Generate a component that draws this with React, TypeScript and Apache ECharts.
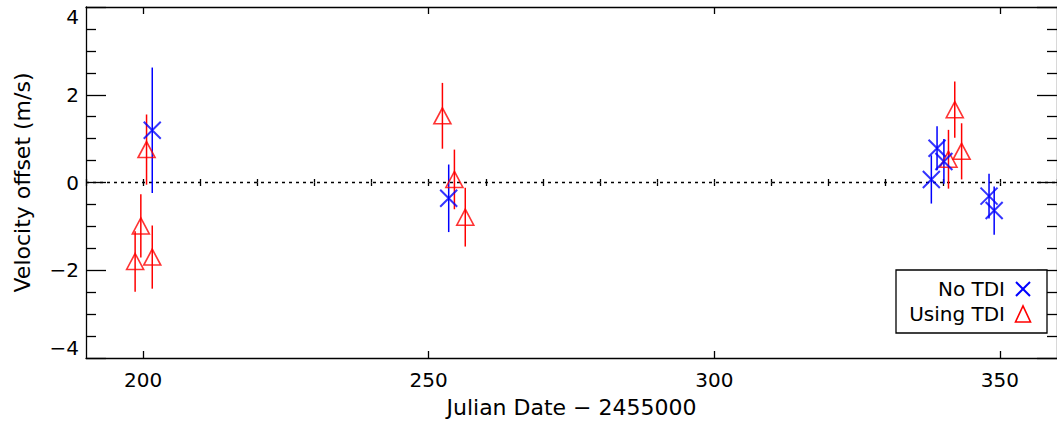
import React, { useEffect, useRef } from "react";
import * as echarts from "echarts";

// ---- Data ----
const noTdiDate = [201.6, 253.5, 338.0, 339.0, 340.2, 348.1, 349.0];
const noTdiOffset = [1.19, -0.36, 0.07, 0.78, 0.48, -0.31, -0.64];
const noTdiError = [1.43, 0.77, 0.55, 0.5, 0.51, 0.51, 0.55];

const tdiDate = [198.6, 199.6, 200.6, 201.6, 252.4, 254.5, 256.4, 341.0, 342.1, 343.3];
const tdiOffset = [-1.8, -0.99, 0.75, -1.7, 1.52, 0.07, -0.79, 0.53, 1.66, 0.71];
const tdiError = [0.69, 0.72, 0.8, 0.72, 0.75, 0.68, 0.67, 0.67, 0.64, 0.64];

const xMajorTicks = [200, 250, 300, 350];
const xMinorTicks = [190, 200, 210, 220, 230, 240, 250, 260, 270, 280, 290, 300, 310, 320, 330, 340, 350, 360];
const zeroLine = [
  [190, 0],
  [360, 0],
];

const xTitle = "Julian Date \u2212 2455000";
const yTitle = "Velocity offset (m/s)";
const legendLabels = ["No TDI", "Using TDI"];

const FONT = "DejaVu Sans";
const BLUE = "#0000ff";
const RED = "#ff0000";
const AXIS_W = 1.3;

function errorBars(dates: number[], vals: number[], errs: number[], color: string) {
  return {
    type: "custom",
    xAxisIndex: 0,
    yAxisIndex: 0,
    silent: true,
    data: dates.map((d, i) => [d, vals[i], errs[i]]),
    encode: { x: 0, y: 1 },
    renderItem: (_params: any, api: any) => {
      const x = api.value(0);
      const y = api.value(1);
      const e = api.value(2);
      const p1 = api.coord([x, y - e]);
      const p2 = api.coord([x, y + e]);
      return {
        type: "line",
        shape: { x1: p1[0], y1: p1[1], x2: p2[0], y2: p2[1] },
        style: { stroke: color, lineWidth: 1.5 },
      };
    },
  };
}

export default function App() {
  const ref = useRef<HTMLDivElement>(null);

  useEffect(() => {
    if (!ref.current) return;
    const chart = echarts.init(ref.current, null, { renderer: "svg" });

    const axisLine = { show: true, onZero: false, lineStyle: { color: "#000", width: AXIS_W } };
    const tickLine = { color: "#000", width: AXIS_W };

    const xBase = {
      type: "value",
      min: 190,
      max: 360,
      splitLine: { show: false },
      minorSplitLine: { show: false },
    };

    const yBase = {
      type: "value",
      min: -4,
      max: 4,
      interval: 2,
      axisLine,
      axisTick: { show: true, inside: true, length: 20, lineStyle: tickLine },
      minorTick: { show: true, splitNumber: 4, length: 10, lineStyle: tickLine },
      splitLine: { show: false },
      minorSplitLine: { show: false },
    };

    const option: any = {
      animation: false,
      backgroundColor: "#fff",
      grid: { left: 86, top: 7, right: -9, bottom: 64, containLabel: false },
      xAxis: [
        {
          ...xBase,
          position: "bottom",
          axisLine,
          axisTick: { show: true, inside: true, length: 7, customValues: xMajorTicks, lineStyle: tickLine },
          axisLabel: {
            customValues: xMajorTicks,
            margin: 12,
            color: "#000",
            fontSize: 20,
            fontFamily: FONT,
          },
          name: xTitle,
          nameLocation: "middle",
          nameGap: 38,
          nameTextStyle: { color: "#000", fontSize: 22, fontFamily: FONT },
        },
        {
          ...xBase,
          position: "bottom",
          axisLine: { show: false },
          axisTick: { show: true, inside: true, length: 3.5, customValues: xMinorTicks, lineStyle: tickLine },
          axisLabel: { show: false },
        },
        {
          ...xBase,
          position: "top",
          axisLine,
          axisTick: { show: true, inside: true, length: 7, customValues: xMajorTicks, lineStyle: tickLine },
          axisLabel: { show: false },
        },
        {
          ...xBase,
          position: "top",
          axisLine: { show: false },
          axisTick: { show: true, inside: true, length: 3.5, customValues: xMinorTicks, lineStyle: tickLine },
          axisLabel: { show: false },
        },
      ],
      yAxis: [
        {
          ...yBase,
          position: "left",
          axisLabel: {
            margin: 7,
            color: "#000",
            fontSize: 20,
            fontFamily: FONT,
            verticalAlignMinLabel: "bottom",
            verticalAlignMaxLabel: "top",
            formatter: (v: number) => String(v).replace("-", "\u2212"),
          },
          name: yTitle,
          nameLocation: "middle",
          nameGap: 53,
          nameRotate: 90,
          nameTextStyle: { color: "#000", fontSize: 22, fontFamily: FONT },
        },
        {
          ...yBase,
          position: "right",
          axisLabel: { show: false },
        },
      ],
      series: [
        {
          type: "line",
          xAxisIndex: 0,
          yAxisIndex: 0,
          data: zeroLine,
          symbol: "none",
          silent: true,
          lineStyle: { color: "#000", width: 1.3, type: [3, 4] },
          z: 1,
        },
        errorBars(tdiDate, tdiOffset, tdiError, RED),
        {
          type: "scatter",
          name: legendLabels[1],
          xAxisIndex: 0,
          yAxisIndex: 0,
          silent: true,
          data: tdiDate.map((d, i) => [d, tdiOffset[i]]),
          symbol: "triangle",
          symbolSize: [17, 16],
          itemStyle: { color: "transparent", borderColor: RED, borderWidth: 1.6 },
        },
        errorBars(noTdiDate, noTdiOffset, noTdiError, BLUE),
        {
          type: "scatter",
          name: legendLabels[0],
          xAxisIndex: 0,
          yAxisIndex: 0,
          silent: true,
          data: noTdiDate.map((d, i) => [d, noTdiOffset[i]]),
          symbol: "path://M0,0L10,10M10,0L0,10",
          symbolSize: 17,
          itemStyle: { color: "transparent", borderColor: BLUE, borderWidth: 2 },
        },
      ],
      graphic: [
        {
          type: "rect",
          shape: { x: 896, y: 270, width: 151, height: 63 },
          style: { fill: "#fff", stroke: "#000", lineWidth: AXIS_W },
          z: 100,
        },
        {
          type: "text",
          x: 1005,
          y: 289,
          style: {
            text: legendLabels[0],
            fill: "#000",
            fontSize: 20,
            fontFamily: FONT,
            textAlign: "right",
            textVerticalAlign: "middle",
          },
          z: 101,
        },
        {
          type: "text",
          x: 1005,
          y: 314,
          style: {
            text: legendLabels[1],
            fill: "#000",
            fontSize: 20,
            fontFamily: FONT,
            textAlign: "right",
            textVerticalAlign: "middle",
          },
          z: 101,
        },
        {
          type: "line",
          shape: { x1: 1016, y1: 282, x2: 1030, y2: 296 },
          style: { stroke: BLUE, lineWidth: 2 },
          z: 101,
        },
        {
          type: "line",
          shape: { x1: 1030, y1: 282, x2: 1016, y2: 296 },
          style: { stroke: BLUE, lineWidth: 2 },
          z: 101,
        },
        {
          type: "polygon",
          shape: {
            points: [
              [1015.5, 322],
              [1030.5, 322],
              [1023, 306],
            ],
          },
          style: { fill: "transparent", stroke: RED, lineWidth: 1.6 },
          z: 101,
        },
      ],
    };

    chart.setOption(option);
    return () => chart.dispose();
  }, []);

  return (
    <div
      ref={ref}
      style={{ position: "fixed", left: 0, top: 0, width: 1057, height: 423, background: "#fff" }}
    />
  );
}
